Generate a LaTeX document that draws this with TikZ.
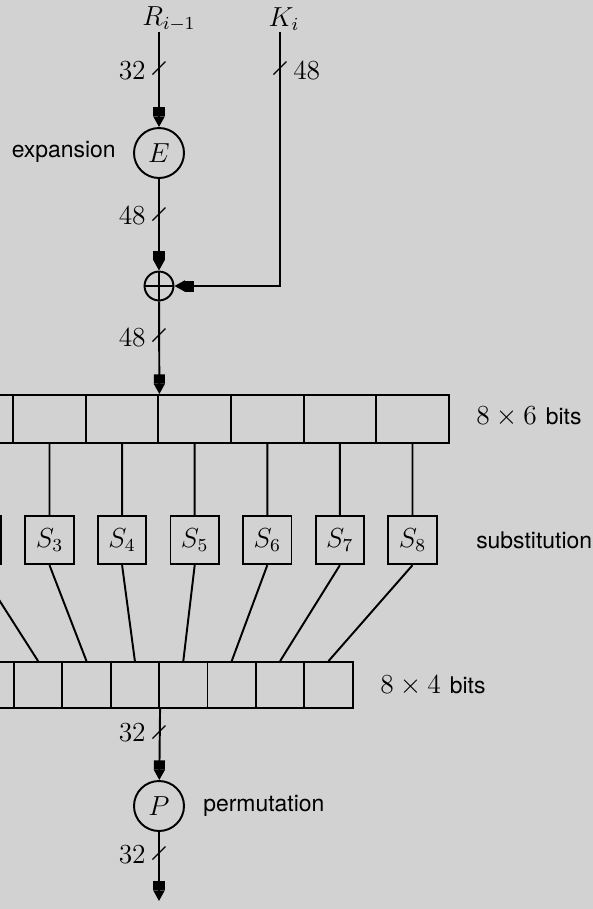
\documentclass[tikz,border=0pt,12pt]{standalone}
\usepackage{fontspec}
\setsansfont{TeX Gyre Heros}
\usetikzlibrary{arrows.meta}
\definecolor{bgcol}{RGB}{210,210,210}
\newcommand{\sftext}{\sffamily\fontsize{10}{12}\selectfont}
\tikzset{
  onecell/.style={draw,minimum width=31.65pt,minimum height=20.9pt,inner sep=0pt},
  sbox/.style={draw,minimum size=21.1pt,inner sep=0pt},
  halfcell/.style={draw,minimum width=21.1pt,minimum height=20pt,inner sep=0pt},
  op/.style={draw,circle,minimum size=21.8pt,inner sep=0pt},
  xorop/.style={draw,circle,minimum size=12.6pt,inner sep=0pt,
    path picture={\draw (path picture bounding box.west)--(path picture bounding box.east)
      (path picture bounding box.north)--(path picture bounding box.south);}},
  lbl/.style={inner sep=1pt},
  txt/.style={inner sep=1pt,font=\sftext},
}
\begin{document}
\begin{tikzpicture}[x=0.436pt,y=-0.436pt,line width=.85pt,
  >={Rectangle[length=4pt,width=4.8pt]Triangle[length=4.6pt,width=4.8pt]}]
\useasboundingbox (0,0) rectangle (593,909);
\fill[bgcol] (0,0) rectangle (593,909);
\clip (0,0) rectangle (593,909);
% inputs
\node[lbl] (rlab) at (169,19) {$R_{i-1}$};
\node[lbl] (klab) at (284,19) {$K_i$};
\coordinate (rin) at (159,32);
\coordinate (kin) at (280,32);
\node[op] (E) at (159,153) {$E$};
\node[txt,anchor=east] (elab) at (119,152) {expansion};
\node[xorop] (xor) at (159,286) {};
% boxes
\foreach \k in {1,...,8}{
  \node[onecell] (in\k) at ({-95.7+72.6*(\k-1)},419) {};
  \node[sbox] (sb\k) at ({-95.7+72.6*(\k-1)},540) {\ifnum\k>2 $S_{\k}$\fi};
  \node[halfcell] (out\k) at ({-10.3+48.4*(\k-1)},685) {};
}
\foreach \k in {1,...,8}
  \draw (in\k.south) -- (sb\k.north) (sb\k.south) -- (out\k.north);
\node[op] (P) at (159,806) {$P$};
\coordinate (pout) at (159,901);
% connectors
\draw[->] (rin) -- (E);
\draw[->] (E) -- (xor);
\draw[->] (kin) |- (xor);
\draw[->] (xor) -- (in4.north east);
\draw[->] (out4.south east) -- (P);
\draw[->] (P) -- (pout);
% bus widths
\foreach \p in {(159,68),(280,68),(159,214),(159,335),(159,732),(159,853)}
  \draw[line width=.6pt] \p ++(-6.5,6.5) -- ++(13,-13);
\node[lbl,anchor=east] (w1) at (149,71) {$32$};
\node[lbl,anchor=west] (w2) at (290,71) {$48$};
\node[lbl,anchor=east] (w3) at (149,216) {$48$};
\node[lbl,anchor=east] (w4) at (149,338) {$48$};
\node[lbl,anchor=east] (w5) at (149,733) {$32$};
\node[lbl,anchor=east] (w6) at (149,855) {$32$};
% side labels
\node[lbl,anchor=west] (sixb) at (473,417) {$8\times6$ {\sftext bits}};
\node[txt,anchor=west] (subl) at (473,540) {substitution};
\node[lbl,anchor=west] (fourb) at (377,686) {$8\times4$ {\sftext bits}};
\node[txt,anchor=west] (perml) at (200,806) {permutation};
\end{tikzpicture}
\end{document}
